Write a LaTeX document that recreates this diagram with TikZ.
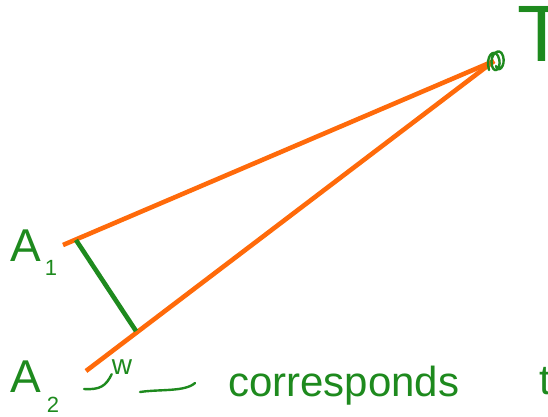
\documentclass[tikz,border=0pt]{standalone}
\usepackage{fontspec}
\setmainfont{Liberation Sans}
\definecolor{ink}{HTML}{1E8A1E}
\definecolor{ray}{HTML}{FF6A0A}
\begin{document}
\begin{tikzpicture}[x=1pt,y=1pt,
  rayline/.style={draw=ray,line width=4.6pt},
  inkline/.style={draw=ink,line width=4.6pt},
  pen/.style={draw=ink,line width=2.4pt,line cap=round,line join=round},
  hand/.style={text=ink,inner sep=0pt,font=#1},
  hand/.default={\fontsize{42}{46}\selectfont}]
\useasboundingbox (0,0) rectangle (548,416);
\clip (0,0) rectangle (548,416);
% points
\coordinate (T) at (494,355);
\coordinate (A1) at (63,171);
\coordinate (A2) at (86,45);
\coordinate (F1) at (76,176);
\coordinate (F2) at (136,85);
% rays
\draw[rayline] (A1) -- (T);
\draw[rayline] (A2) -- (T);
% perpendicular
\draw[inkline] (F1) -- (F2);
% apex scribble
\draw[pen] (489,346) .. controls (485,360) and (494,368) .. (498,360)
  .. controls (503,350) and (495,340) .. (492,350)
  .. controls (489,362) and (500,370) .. (503,360)
  .. controls (506,350) and (498,342) .. (496,350);
% labels
\node[hand={\fontsize{46}{50}\selectfont},anchor=base] (la1) at (26,155) {A};
\node[hand={\fontsize{22}{24}\selectfont},anchor=base] (la1s) at (51,141) {1};
\node[hand={\fontsize{46}{50}\selectfont},anchor=base] (la2) at (26,24) {A};
\node[hand={\fontsize{22}{24}\selectfont},anchor=base] (la2s) at (53,4) {2};
\node[hand={\fontsize{28}{30}\selectfont},anchor=base] (lw) at (122,42) {w};
\coordinate (w0) at (84,27);
\coordinate (w1) at (140,24);
\coordinate (w2) at (195,33);
\draw[pen] (w0) .. controls (100,26) and (106,30) .. (lw.south west);
\draw[pen] (w1) .. controls (160,27) and (185,24) .. (w2);
\node[hand,anchor=base west] (lc) at (228,20) {corresponds};
\node[hand,anchor=base west] (lt) at (539,22) {t};
\node[hand={\fontsize{80}{84}\selectfont},anchor=north] (lT) at (542,410) {T};
\end{tikzpicture}
\end{document}
